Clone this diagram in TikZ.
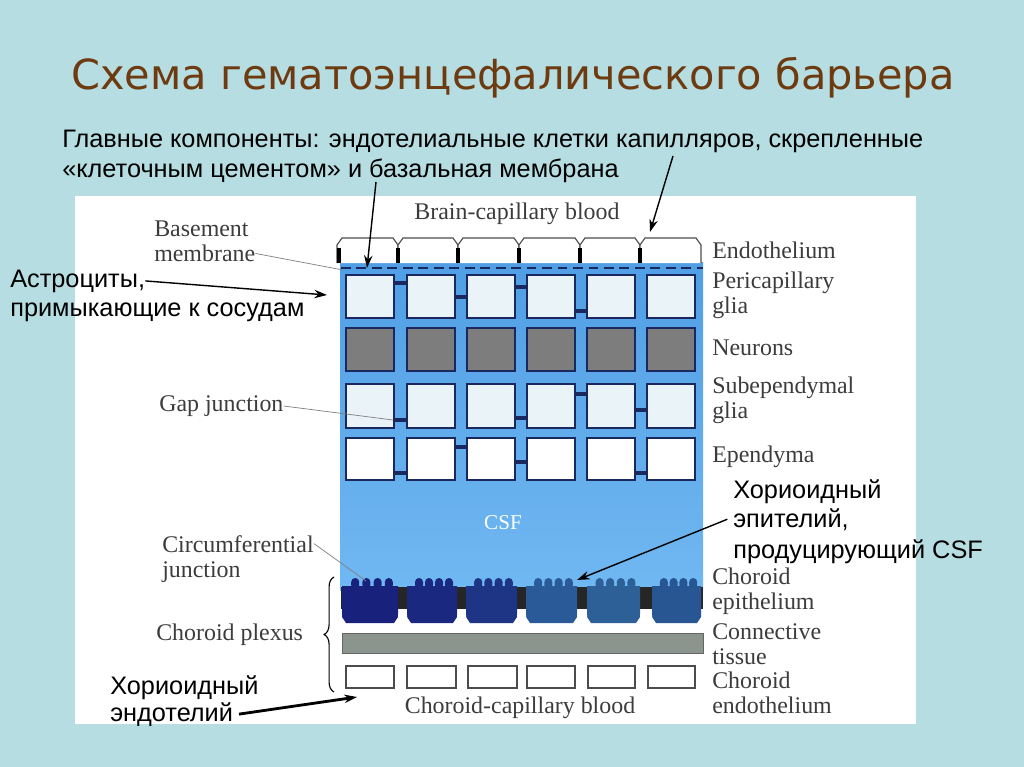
\documentclass[tikz,border=0pt]{standalone}
\usepackage{fontspec}
\setmainfont{Liberation Serif}
\newfontfamily\rusfont{Liberation Sans}
\newfontfamily\titlefont{DejaVu Sans}
\usetikzlibrary{arrows.meta,decorations.pathreplacing}
\definecolor{slidebg}{RGB}{182,222,226}
\definecolor{titlebrown}{RGB}{110,58,16}
\definecolor{tissueblue}{RGB}{80,158,228}
\definecolor{csfblue}{RGB}{112,184,242}
\definecolor{celledge}{RGB}{25,40,95}
\definecolor{gliafill}{RGB}{234,243,248}
\definecolor{neurongray}{RGB}{125,125,125}
\definecolor{labelgray}{RGB}{60,60,60}
\definecolor{conngray}{RGB}{140,148,142}
\definecolor{chorA}{RGB}{24,34,124}
\definecolor{chorB}{RGB}{26,40,128}
\definecolor{chorC}{RGB}{30,52,132}
\definecolor{chorD}{RGB}{42,90,152}
\definecolor{chorE}{RGB}{46,96,152}
\definecolor{chorF}{RGB}{40,86,146}
\tikzset{
  lbl/.style={text=labelgray, font=\fontsize{17}{18}\selectfont, align=left, inner sep=0pt},
  rus/.style={font=\rusfont\fontsize{18}{21}\selectfont, inner sep=0pt},
  cell/.style={draw=celledge, line width=1.1pt},
  gapbar/.style={celledge, line width=2.2pt},
  leader/.style={gray, line width=0.5pt},
  ptr/.style={-{Stealth[length=9pt,width=6pt]}, line width=1pt},
}
\begin{document}
\begin{tikzpicture}[x=0.025cm,y=-0.025cm]
  \fill[slidebg] (0,0) rectangle (1024,767);
  \useasboundingbox (0,0) rectangle (1024,767);
  \fill[white] (75,196) rectangle (916,724);

  \node[font=\titlefont\fontsize{29.5}{31}\selectfont, text=titlebrown] (title) at (513,78)
    {Схема гематоэнцефалического барьера};

  \shade[top color=tissueblue, bottom color=csfblue] (340,262) rectangle (703,590);

  % endothelium
  \foreach \xa/\xb in {337/398,398/458,458/519,519/580,580/640,640/701}
    \draw[draw=black!70, line width=0.8pt, fill=white]
      (\xa,263) -- (\xa,245) -- ({\xa+5},238) -- ({\xb-5},238) -- (\xb,245) -- (\xb,263);
  \foreach \xj in {339,398,458,519,580,640}
    \draw[line width=3.5pt] (\xj,248) -- (\xj,263);
  \draw[celledge, line width=2pt, dash pattern=on 7pt off 4pt] (341,268) -- (703,268);

  % cell rows
  \foreach \xl in {346,407,467,527,587,647} {
    \draw[cell, fill=gliafill] (\xl,275) rectangle ++(48,43);
    \draw[cell, fill=neurongray] (\xl,328) rectangle ++(48,43);
    \draw[cell, fill=gliafill] (\xl,384) rectangle ++(48,44);
    \draw[cell, fill=white] (\xl,438) rectangle ++(48,42);
  }
  \foreach \xa/\xb/\yy in {394/407/283,455/467/297,515/527/287,575/587/311,
                           394/407/420,515/527/418,575/587/394,635/647/410,
                           394/407/473,455/467/447,515/527/462,635/647/473}
    \draw[gapbar] (\xa,\yy) -- (\xb,\yy);

  % choroid epithelium
  \fill[black!85] (341,587) rectangle (703,609);
  \foreach \xa/\xb/\c in {342/398/chorA,407/457/chorB,466/517/chorC,526/577/chorD,587/640/chorE,652/701/chorF} {
    \fill[\c] (\xa,586) -- (\xa,617) -- ({\xa+4},623) -- ({\xb-4},623) -- (\xb,617) -- (\xb,586) -- cycle;
    \foreach \k in {1,2,3,4}
      \fill[\c, rounded corners=2.8pt] ({\xa+2+\k*(\xb-\xa)/5-4},589) rectangle ({\xa+2+\k*(\xb-\xa)/5+4},578);
  }
  \foreach \xa/\xb in {398/407,457/466,517/526,577/587,640/652}
    \fill[white, rounded corners=3pt] (\xa,625) -- (\xa,611) -- (\xb,611) -- (\xb,625) -- cycle;

  \draw[fill=conngray, draw=black!60] (342,633) rectangle (703,653);
  \foreach \xl/\xr in {346/394,407/456,468/517,527/575,588/635,648/695}
    \draw[draw=black!70, line width=0.8pt, fill=white] (\xl,666) rectangle (\xr,688);
  \draw[decorate, decoration={brace, amplitude=7pt}, line width=0.8pt] (334,692) -- (334,577);

  \node[text=white, font=\fontsize{15}{16}\selectfont] (csf) at (503,523) {CSF};
  \node[lbl] (braincap) at (517,214) {Brain-capillary blood};
  \node[lbl] (chorcap) at (520,708) {Choroid-capillary blood};

  \node[lbl, anchor=west] (endo) at (712,250) {Endothelium};
  \node[lbl, anchor=west] (peri) at (712,295) {Pericapillary\\glia};
  \node[lbl, anchor=west] (neur) at (712,348) {Neurons};
  \node[lbl, anchor=west] (subep) at (712,400) {Subependymal\\glia};
  \node[lbl, anchor=west] (epend) at (712,457) {Ependyma};
  \node[lbl, anchor=west] (chorep) at (712,591) {Choroid\\epithelium};
  \node[lbl, anchor=west] (conn) at (712,644) {Connective\\tissue};
  \node[lbl, anchor=west] (chorendo) at (712,693) {Choroid\\endothelium};

  \node[lbl, anchor=west] (basem) at (154,241) {Basement\\membrane};
  \node[lbl, anchor=west] (gaplbl) at (159,406) {Gap junction};
  \node[lbl, anchor=west] (circ) at (162,559) {Circumferential\\junction};
  \node[lbl, anchor=west] (plexus) at (156,635) {Choroid plexus};

  \coordinate (basemtip) at (343,270);
  \coordinate (gaptip) at (393,420);
  \coordinate (circtip) at (366,581);
  \draw[leader] ([yshift=6pt]basem.south east) -- (basemtip);
  \draw[leader] (gaplbl.east) -- (gaptip);
  \draw[leader] ([yshift=-6pt]circ.north east) -- (circtip);

  % russian notes
  \node[rus, anchor=base west] (main1) at (62,148)
    {Главные компоненты: эндотелиальные клетки капилляров, скрепленные};
  \node[rus, anchor=base west] (main2) at (62,178)
    {«клеточным цементом» и базальная мембрана};
  \node[rus, anchor=base west] (astro1) at (10,287) {Астроциты,};
  \node[rus, anchor=base west] (astro2) at (10,316) {примыкающие к сосудам};
  \node[rus, anchor=base west] (epi1) at (733,498) {Хориоидный};
  \node[rus, anchor=base west] (epi2) at (733,527) {эпителий,};
  \node[rus, anchor=base west] (epi3) at (733,558) {продуцирующий CSF};
  \node[rus, anchor=base west] (endn1) at (110,694) {Хориоидный};
  \node[rus, anchor=base west] (endn2) at (110,721) {эндотелий};

  \coordinate (cementtail) at (376,182);
  \coordinate (cementtip) at (367,268);
  \coordinate (endotail) at (673,156);
  \coordinate (endotip) at (650,232);
  \coordinate (astrotip) at (327,295);
  \coordinate (epitip) at (577,580);
  \coordinate (endntip) at (357,697);
  \draw[ptr] (cementtail) -- (cementtip);
  \draw[ptr] (endotail) -- (endotip);
  \draw[ptr] (astro1.east) -- (astrotip);
  \draw[ptr] ([xshift=-4pt]epi2.west) -- (epitip);
  \draw[ptr, line width=2pt] ([xshift=4pt]endn2.east) -- (endntip);
\end{tikzpicture}
\end{document}
